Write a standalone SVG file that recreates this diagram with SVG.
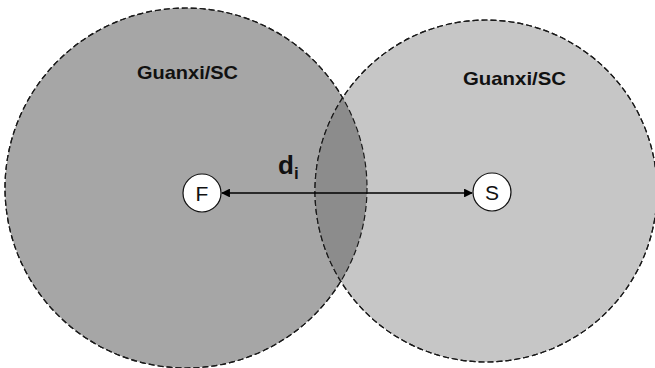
<svg xmlns="http://www.w3.org/2000/svg" width="655" height="368" viewBox="0 0 655 368">
  <style>
    .zone { stroke: #1a1a1a; stroke-width: 1.2; stroke-dasharray: 6 3; }
    .label { font-family: "Liberation Sans", Arial, sans-serif; font-weight: bold; fill: #111; }
    .node { fill: #ffffff; stroke: #111; stroke-width: 1.2; }
    .ntext { font-family: "Liberation Sans", Arial, sans-serif; font-size: 21px; fill: #111; text-anchor: middle; }
    .link { stroke: #000; stroke-width: 1.6; fill: none; }
  </style>
  <defs>
    <marker id="arrow" viewBox="0 0 10 10" refX="9" refY="5" markerWidth="5.5" markerHeight="5.5" orient="auto-start-reverse" markerUnits="strokeWidth">
      <path d="M0,0 L10,5 L0,10 z" fill="#000"/>
    </marker>
    <clipPath id="clipS">
      <ellipse cx="486" cy="191" rx="171" ry="171"/>
    </clipPath>
  </defs>

  <!-- networks of firm F and supplier S -->
  <g id="zone-F">
    <ellipse class="zone" cx="186" cy="188" rx="181" ry="180" fill="#a6a6a6"/>
    <text class="label" x="137" y="79" font-size="19" textLength="101" lengthAdjust="spacingAndGlyphs">Guanxi/SC</text>
  </g>
  <g id="zone-S">
    <ellipse class="zone" cx="486" cy="191" rx="171" ry="171" fill="#c6c6c6"/>
    <text class="label" x="463" y="85" font-size="19" textLength="103" lengthAdjust="spacingAndGlyphs">Guanxi/SC</text>
  </g>
  <g id="overlap">
    <ellipse cx="186" cy="188" rx="181" ry="180" fill="#8c8c8c" clip-path="url(#clipS)"/>
    <ellipse class="zone" cx="186" cy="188" rx="181" ry="180" fill="none"/>
    <ellipse class="zone" cx="486" cy="191" rx="171" ry="171" fill="none"/>
  </g>

  <g id="connectors">
    <line class="link" x1="222" y1="193" x2="472" y2="193" marker-start="url(#arrow)" marker-end="url(#arrow)"/>
    <text class="label" x="278" y="174" font-size="26">d</text>
    <text class="label" x="294" y="179" font-size="17">i</text>
  </g>

  <g id="node-F">
    <circle class="node" cx="202" cy="193" r="19"/>
    <text class="ntext" x="202" y="200.5">F</text>
  </g>
  <g id="node-S">
    <circle class="node" cx="492" cy="192" r="19"/>
    <text class="ntext" x="492" y="199.5">S</text>
  </g>
</svg>
